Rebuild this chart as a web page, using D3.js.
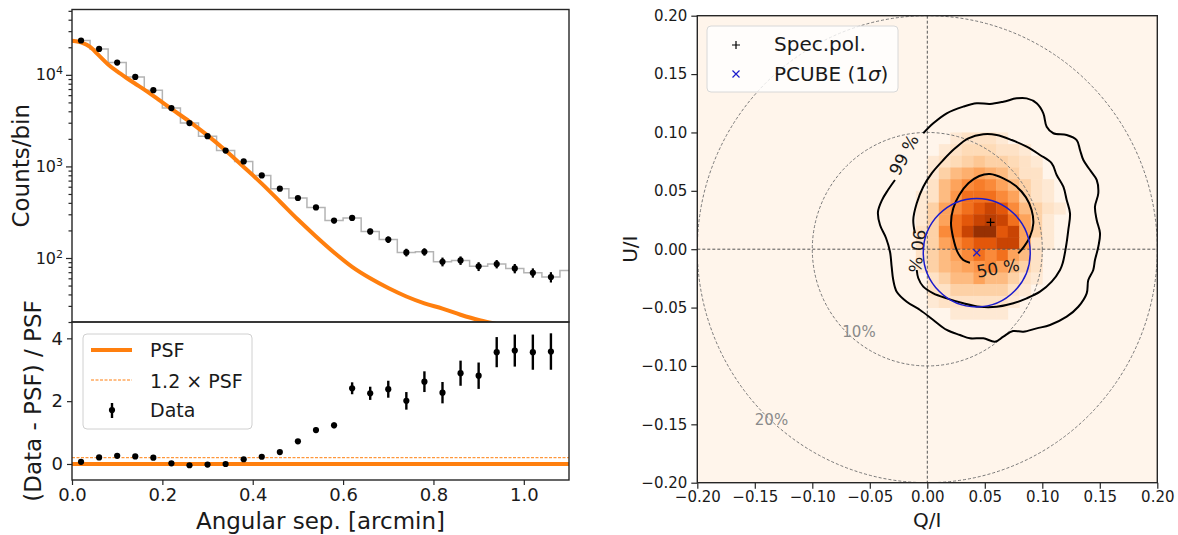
<!DOCTYPE html>
<html><head><meta charset="utf-8">
<script src="https://cdn.jsdelivr.net/npm/d3@7"></script>
<style>
body{margin:0;background:#fff}
text{font-family:"DejaVu Sans",sans-serif;fill:#1a1a1a}
</style>
</head><body>
<svg id="chart" width="1178" height="535"></svg>
<script>
// ---------------- LEFT PANEL DATA ----------------
const binCenters = [0.02,0.06,0.10,0.14,0.18,0.22,0.26,0.30,0.34,0.38,0.42,0.46,0.50,0.54,0.58,0.62,0.66,0.70,0.74,0.78,0.82,0.86,0.90,0.94,0.98,1.02,1.06];
const counts = [23700,19200,13600,9500,6800,4340,2970,2140,1490,1134,798,571,452,357,256,274,195,159,115,117,91,94,81,86,77,69,62];
const countErr = [154,139,117,97,82,66,54,46,39,34,28,24,21,19,16,17,14,13,11,11,10,10,9,9,9,8,8];
const histEdges = [0,0.04,0.08,0.12,0.16,0.20,0.24,0.28,0.32,0.36,0.40,0.44,0.48,0.52,0.56,0.60,0.64,0.68,0.72,0.76,0.80,0.84,0.88,0.92,0.96,1.00,1.04,1.08,1.12];
const histCounts = [23700,19200,13600,9500,6800,4340,2970,2140,1490,1134,798,571,452,357,256,274,195,159,115,117,91,94,81,86,77,69,62,73];
const psfX = [0,0.02,0.04,0.06,0.08,0.10,0.12,0.14,0.16,0.18,0.20,0.22,0.26,0.30,0.34,0.38,0.42,0.46,0.50,0.54,0.58,0.62,0.66,0.70,0.74,0.78,0.82,0.86,0.90,0.94,0.98];
const psfY = [23600,22600,20200,16200,13000,10900,9300,8000,6900,5900,5000,4250,3090,2180,1490,986,649,414,263,172,115,80,60,47,38,32,28,24,21,19,17];
const residual = [0.07,0.21,0.26,0.24,0.20,0.02,-0.04,-0.02,0.0,0.15,0.23,0.38,0.72,1.08,1.23,2.41,2.25,2.38,2.01,2.62,2.27,2.89,2.81,3.56,3.61,3.56,3.58];
const residualErr = [0.01,0.01,0.015,0.015,0.02,0.02,0.025,0.03,0.03,0.04,0.04,0.05,0.06,0.08,0.09,0.19,0.21,0.27,0.28,0.33,0.34,0.40,0.42,0.48,0.51,0.56,0.58];
const psfRatioLine = 0;
const psf12Line = 0.2;
const xTicksLeft = [0,0.2,0.4,0.6,0.8,1.0];
const yTicksTop = [100,1000,10000];
const yTicksBottom = [0,2,4];
const legendLeft = ["PSF","1.2 \u00d7 PSF","Data"];

// ---------------- RIGHT PANEL DATA ----------------
const qEdges = [-0.02,-0.01,0.00,0.01,0.02,0.03,0.04,0.05,0.06,0.07,0.08,0.09,0.10,0.11];
const uEdges = [0.09,0.08,0.07,0.06,0.05,0.04,0.03,0.02,0.01,0.00,-0.01,-0.02,-0.03,-0.04,-0.05,-0.06];
const cellSize = 0.01;
const density = [
 [0,0,0,0,0.5,1,1,1,0.5,0,0,0,0,0],
 [0,0,0,0.5,1,1.5,1.5,1.5,1,1,0.5,0,0,0],
 [0,0,0.5,1,1.5,2,2.5,2,2,1.5,1,0.5,0,0],
 [0,0,0.5,2,3,3.5,4,3.5,3,2,1,1,0,0],
 [0,0,1,3,4,5,5.5,5,4,3,2,1,0.5,0],
 [0,0.5,1,3,4.5,6,6,6,5,4,2,1,0.5,0],
 [0,0.5,2,4,5,6,7,8,7,5,3,2,1,0.5],
 [0,0.5,2,4,6,7,8,8.5,8,6,4,2,0.5,0],
 [0,1,2,5,6,8,9.5,9.5,7,8,4,2,0.5,0],
 [0,1,2,4,5,6,7,7,8,8,4,1,0.5,0],
 [0,1,2,3,4,5,6,5,6,4,3,1,0,0],
 [0,0.5,2,3,3.5,4,4.5,5,4,3,2,1,0,0],
 [0,0,1,2,3,3,4,3,3,2,1,0.5,0,0],
 [0,0,1,1,2,2,2,2,2,1,0.5,0,0,0],
 [0,0,0.5,1,1,1,1,1,1,0.5,0,0,0,0],
 [0,0,0,0,0.5,0.5,0.5,0.5,0.5,0,0,0,0,0]
];
const densityMax = 10;
const contour50 = [[0.0791,-0.0036],[0.0841,0.0022],[0.0893,0.0107],[0.0922,0.0222],[0.0907,0.0336],[0.0858,0.0444],[0.0771,0.0541],[0.0661,0.0607],[0.0545,0.0644],[0.0452,0.0627],[0.0357,0.0564],[0.0278,0.0464],[0.0226,0.0350],[0.0206,0.0222],[0.0226,0.0093],[0.0261,-0.0021],[0.0313,-0.0093],[0.0371,-0.0116]];
const contour90 = [[-0.0107,0.0136],[-0.0122,0.0250],[-0.0092,0.0393],[-0.0035,0.0535],[0.0038,0.0650],[0.0139,0.0764],[0.0241,0.0864],[0.0357,0.0950],[0.0487,0.0984],[0.0603,0.0978],[0.0734,0.0935],[0.0864,0.0878],[0.0980,0.0807],[0.1082,0.0736],[0.1125,0.0636],[0.1183,0.0535],[0.1212,0.0421],[0.1241,0.0307],[0.1226,0.0164],[0.1206,0.0021],[0.1177,-0.0121],[0.1154,-0.0178],[0.1082,-0.0278],[0.0980,-0.0364],[0.0864,-0.0421],[0.0748,-0.0463],[0.0603,-0.0493],[0.0458,-0.0493],[0.0313,-0.0463],[0.0169,-0.0421],[0.0052,-0.0378],[-0.0035,-0.0321],[-0.0078,-0.0249],[-0.0092,-0.0178]];
const contour99 = [[-0.0035,0.0993],[0.0052,0.1078],[0.0169,0.1164],[0.0313,0.1221],[0.0430,0.1250],[0.0545,0.1244],[0.0661,0.1263],[0.0777,0.1292],[0.0864,0.1292],[0.0951,0.1250],[0.1009,0.1164],[0.1038,0.1049],[0.1096,0.0993],[0.1212,0.0978],[0.1299,0.0935],[0.1328,0.0850],[0.1357,0.0764],[0.1415,0.0678],[0.1473,0.0593],[0.1487,0.0479],[0.1458,0.0364],[0.1473,0.0250],[0.1502,0.0136],[0.1487,0.0021],[0.1458,-0.0093],[0.1443,-0.0178],[0.1400,-0.0264],[0.1386,-0.0378],[0.1313,-0.0493],[0.1212,-0.0578],[0.1067,-0.0649],[0.0951,-0.0678],[0.0835,-0.0707],[0.0745,-0.0701],[0.0661,-0.0749],[0.0589,-0.0792],[0.0487,-0.0763],[0.0371,-0.0763],[0.0284,-0.0735],[0.0169,-0.0692],[0.0052,-0.0606],[-0.0063,-0.0521],[-0.0179,-0.0450],[-0.0266,-0.0364],[-0.0296,-0.0264],[-0.0310,-0.0150],[-0.0324,-0.0024],[-0.0359,0.0096],[-0.0411,0.0207],[-0.0429,0.0319],[-0.0394,0.0421],[-0.0342,0.0507],[-0.0281,0.0593]];
const contourLabelText = ["50 %","90 %","99 %"];
const contourLabelQ = [0.0615,-0.0090,-0.0203];
const contourLabelU = [-0.0163,-0.0015,0.0807];
const contourLabelAngle = [-10,97,-62];
const specPol = [0.055,0.023];
const pcubeCenter = [0.043,-0.003];
const pcubeRadius = 0.0465;
const pdRadii = [0.1,0.2];
const pdLabels = ["10%","20%"];
const pdLabelQ = [-0.0594,-0.1355];
const pdLabelU = [-0.0709,-0.1463];
const rightTicks = [-0.20,-0.15,-0.10,-0.05,0.00,0.05,0.10,0.15,0.20];
const legendRight = ["Spec.pol.","PCUBE (1"];

// ---------------- DRAW ----------------
const svg = d3.select("#chart");
const ORANGE = "#ff7f0e";
const SPINE = "#262626";

const xL = d3.scaleLinear().domain([0,1.1]).range([72,569]);
const yTop = d3.scaleLog().domain([20,51700]).range([322,9.5]);
const yBot = d3.scaleLinear().domain([-0.51,4.52]).range([480,322]);
const xR = d3.scaleLinear().domain([-0.2,0.2]).range([697.3,1157.3]);
const yR = d3.scaleLinear().domain([-0.2,0.2]).range([482.7,15.7]);

const defs = svg.append("defs");
defs.append("clipPath").attr("id","clipTop").append("rect")
  .attr("x",xL(0)).attr("y",yTop(51700)).attr("width",xL(1.1)-xL(0)).attr("height",yTop(20)-yTop(51700));
defs.append("clipPath").attr("id","clipBot").append("rect")
  .attr("x",xL(0)).attr("y",yBot(4.52)).attr("width",xL(1.1)-xL(0)).attr("height",yBot(-0.51)-yBot(4.52));
defs.append("clipPath").attr("id","clipR").append("rect")
  .attr("x",xR(-0.2)).attr("y",yR(0.2)).attr("width",xR(0.2)-xR(-0.2)).attr("height",yR(-0.2)-yR(0.2));

function styleAxis(g, fs){
  g.select(".domain").remove();
  g.selectAll(".tick line").attr("stroke",SPINE).attr("stroke-width",1.2);
  g.selectAll(".tick text").attr("font-size",fs).attr("fill","#1a1a1a").attr("font-family","DejaVu Sans");
}

// ---- top-left panel ----
const topG = svg.append("g");
const topClip = topG.append("g").attr("clip-path","url(#clipTop)");
const stepPts = [];
histCounts.forEach((c,i)=>{ stepPts.push([histEdges[i],c]); stepPts.push([histEdges[i+1],c]); });
topClip.append("path").datum(stepPts)
  .attr("d", d3.line().x(d=>xL(d[0])).y(d=>yTop(d[1])))
  .attr("fill","none").attr("stroke","#b4b4b4").attr("stroke-width",1.5);
topClip.append("path").datum(psfX.map((x,i)=>[x,psfY[i]]))
  .attr("d", d3.line().x(d=>xL(d[0])).y(d=>yTop(d[1])).curve(d3.curveMonotoneX))
  .attr("fill","none").attr("stroke",ORANGE).attr("stroke-width",4);
binCenters.forEach((x,i)=>{
  topClip.append("line").attr("x1",xL(x)).attr("x2",xL(x))
    .attr("y1",yTop(counts[i]-countErr[i])).attr("y2",yTop(counts[i]+countErr[i]))
    .attr("stroke","#000").attr("stroke-width",2.2);
  topClip.append("circle").attr("cx",xL(x)).attr("cy",yTop(counts[i])).attr("r",3.1).attr("fill","#000");
});
const minorTop = [];
[10,100,1000,10000].forEach(d=>{ for(let m=2;m<=9;m++){ const v=d*m; if(v>=20 && v<=51700) minorTop.push(v);} });
const gMinor = topG.append("g").attr("transform",`translate(${xL(0)},0)`)
  .call(d3.axisLeft(yTop).tickValues(minorTop).tickSize(3.5).tickFormat(""));
styleAxis(gMinor,0);
const gTopY = topG.append("g").attr("transform",`translate(${xL(0)},0)`)
  .call(d3.axisLeft(yTop).tickValues(yTicksTop).tickSize(6).tickPadding(3).tickFormat(""));
styleAxis(gTopY,16);
gTopY.selectAll(".tick text").each(function(d){
  const t = d3.select(this);
  t.text(null).attr("font-size",16);
  t.append("tspan").text("10");
  t.append("tspan").attr("dy","-0.55em").attr("font-size","11px").text(Math.round(Math.log10(d)));
});
topG.append("rect").attr("x",xL(0)).attr("y",yTop(51700)).attr("width",xL(1.1)-xL(0)).attr("height",yTop(20)-yTop(51700))
  .attr("fill","none").attr("stroke",SPINE).attr("stroke-width",1.4);
svg.append("text").attr("transform",`translate(29,${(yTop(20)+yTop(51700))/2}) rotate(-90)`)
  .attr("text-anchor","middle").attr("font-size",23).text("Counts/bin");

// ---- bottom-left panel ----
const botG = svg.append("g");
const botClip = botG.append("g").attr("clip-path","url(#clipBot)");
botClip.append("line").attr("x1",xL(0)).attr("x2",xL(1.1)).attr("y1",yBot(psfRatioLine)).attr("y2",yBot(psfRatioLine))
  .attr("stroke",ORANGE).attr("stroke-width",4);
botClip.append("line").attr("x1",xL(0)).attr("x2",xL(1.1)).attr("y1",yBot(psf12Line)).attr("y2",yBot(psf12Line))
  .attr("stroke",ORANGE).attr("stroke-width",1).attr("stroke-dasharray","3,1.5");
binCenters.forEach((x,i)=>{
  botClip.append("line").attr("x1",xL(x)).attr("x2",xL(x))
    .attr("y1",yBot(residual[i]-residualErr[i])).attr("y2",yBot(residual[i]+residualErr[i]))
    .attr("stroke","#000").attr("stroke-width",2.4);
  botClip.append("circle").attr("cx",xL(x)).attr("cy",yBot(residual[i])).attr("r",3.1).attr("fill","#000");
});
const gBotY = botG.append("g").attr("transform",`translate(${xL(0)},0)`)
  .call(d3.axisLeft(yBot).tickValues(yTicksBottom).tickSize(5).tickPadding(4).tickFormat(d3.format("d")));
styleAxis(gBotY,18);
const gBotX = botG.append("g").attr("transform",`translate(0,${yBot(-0.51)})`)
  .call(d3.axisBottom(xL).tickValues(xTicksLeft).tickSize(5).tickPadding(3).tickFormat(d3.format(".1f")));
styleAxis(gBotX,18);
botG.append("rect").attr("x",xL(0)).attr("y",yBot(4.52)).attr("width",xL(1.1)-xL(0)).attr("height",yBot(-0.51)-yBot(4.52))
  .attr("fill","none").attr("stroke",SPINE).attr("stroke-width",1.4);
svg.append("text").attr("transform",`translate(41,${(yBot(-0.51)+yBot(4.52))/2}) rotate(-90)`)
  .attr("text-anchor","middle").attr("font-size",23).text("(Data - PSF) / PSF");
svg.append("text").attr("x",(xL(0)+xL(1.1))/2).attr("y",529)
  .attr("text-anchor","middle").attr("font-size",23).text("Angular sep. [arcmin]");

// left legend
const lg = svg.append("g");
lg.append("rect").attr("x",83).attr("y",334).attr("width",169).attr("height",95).attr("rx",4)
  .attr("fill","#fff").attr("fill-opacity",0.8).attr("stroke","#d0d0d0").attr("stroke-width",1);
lg.append("line").attr("x1",91).attr("x2",132).attr("y1",350).attr("y2",350).attr("stroke",ORANGE).attr("stroke-width",4);
lg.append("line").attr("x1",91).attr("x2",132).attr("y1",380).attr("y2",380).attr("stroke",ORANGE).attr("stroke-width",1).attr("stroke-dasharray","3,1.5");
lg.append("line").attr("x1",112).attr("x2",112).attr("y1",403).attr("y2",418).attr("stroke","#000").attr("stroke-width",2.4);
lg.append("circle").attr("cx",112).attr("cy",410).attr("r",3.1).attr("fill","#000");
[357,388,417].forEach((y,i)=>{
  lg.append("text").attr("x",150).attr("y",y).attr("font-size",19).text(legendLeft[i]);
});

// ---- right panel ----
const rG = svg.append("g");
const rClip = rG.append("g").attr("clip-path","url(#clipR)");
rClip.append("rect").attr("x",xR(-0.2)).attr("y",yR(0.2)).attr("width",xR(0.2)-xR(-0.2)).attr("height",yR(-0.2)-yR(0.2))
  .attr("fill",d3.interpolateOranges(0));
density.forEach((row,j)=>{
  row.forEach((v,i)=>{
    if(v<=0) return;
    const q0 = qEdges[i], u0 = uEdges[j];
    rClip.append("rect")
      .attr("x",xR(q0)).attr("y",yR(u0+cellSize))
      .attr("width",xR(q0+cellSize)-xR(q0)+0.4).attr("height",yR(u0)-yR(u0+cellSize)+0.4)
      .attr("fill",d3.interpolateOranges(0.05+0.92*v/densityMax));
  });
});
pdRadii.forEach(r=>{
  rClip.append("ellipse").attr("cx",xR(0)).attr("cy",yR(0))
    .attr("rx",xR(r)-xR(0)).attr("ry",yR(0)-yR(r))
    .attr("fill","none").attr("stroke","#777").attr("stroke-width",1).attr("stroke-dasharray","3,2");
});
rClip.append("line").attr("x1",xR(0)).attr("x2",xR(0)).attr("y1",yR(0.2)).attr("y2",yR(-0.2))
  .attr("stroke","#555").attr("stroke-width",1).attr("stroke-dasharray","3,2");
rClip.append("line").attr("x1",xR(-0.2)).attr("x2",xR(0.2)).attr("y1",yR(0)).attr("y2",yR(0))
  .attr("stroke","#555").attr("stroke-width",1).attr("stroke-dasharray","3,2");
pdLabels.forEach((t,i)=>{
  rClip.append("text").attr("x",xR(pdLabelQ[i])).attr("y",yR(pdLabelU[i])).attr("dy","0.35em")
    .attr("text-anchor","middle").attr("font-size",15).style("fill","#8a8a8a").text(t);
});
const cline = d3.line().x(d=>xR(d[0])).y(d=>yR(d[1])).curve(d3.curveCatmullRom.alpha(0.5));
[contour50,contour90,contour99].forEach(c=>{
  rClip.append("path").datum(c).attr("d",cline).attr("fill","none").attr("stroke","#000").attr("stroke-width",2);
});
contourLabelText.forEach((t,i)=>{
  rClip.append("text").attr("transform",`translate(${xR(contourLabelQ[i])},${yR(contourLabelU[i])}) rotate(${contourLabelAngle[i]})`)
    .attr("text-anchor","middle").attr("dy","0.35em").attr("font-size",17).text(t);
});
rClip.append("ellipse").attr("cx",xR(pcubeCenter[0])).attr("cy",yR(pcubeCenter[1]))
  .attr("rx",xR(pcubeCenter[0]+pcubeRadius)-xR(pcubeCenter[0])).attr("ry",yR(pcubeCenter[1])-yR(pcubeCenter[1]+pcubeRadius))
  .attr("fill","none").attr("stroke","#1c1ccc").attr("stroke-width",1.5);
function plus(g,x,y,s,c){ g.append("path").attr("d",`M${x-s},${y}H${x+s}M${x},${y-s}V${y+s}`).attr("stroke",c).attr("stroke-width",1.2); }
function cross(g,x,y,s,c){ g.append("path").attr("d",`M${x-s},${y-s}L${x+s},${y+s}M${x-s},${y+s}L${x+s},${y-s}`).attr("stroke",c).attr("stroke-width",1.2); }
plus(rClip,xR(specPol[0]),yR(specPol[1]),4,"#000");
cross(rClip,xR(pcubeCenter[0]),yR(pcubeCenter[1]),3.5,"#1c1ccc");
const gRY = rG.append("g").attr("transform",`translate(${xR(-0.2)},0)`)
  .call(d3.axisLeft(yR).tickValues(rightTicks).tickSize(6).tickPadding(4).tickFormat(d3.format(".2f")));
styleAxis(gRY,15);
const gRX = rG.append("g").attr("transform",`translate(0,${yR(-0.2)})`)
  .call(d3.axisBottom(xR).tickValues(rightTicks).tickSize(6).tickPadding(3).tickFormat(d3.format(".2f")));
styleAxis(gRX,15);
rG.append("rect").attr("x",xR(-0.2)).attr("y",yR(0.2)).attr("width",xR(0.2)-xR(-0.2)).attr("height",yR(-0.2)-yR(0.2))
  .attr("fill","none").attr("stroke",SPINE).attr("stroke-width",1.4);
svg.append("text").attr("x",(xR(-0.2)+xR(0.2))/2).attr("y",527).attr("text-anchor","middle").attr("font-size",20).text("Q/I");
svg.append("text").attr("transform",`translate(637,${(yR(-0.2)+yR(0.2))/2}) rotate(-90)`)
  .attr("text-anchor","middle").attr("font-size",20).text("U/I");
const rl = svg.append("g");
rl.append("rect").attr("x",707).attr("y",26).attr("width",191).attr("height",66).attr("rx",4)
  .attr("fill","#fff").attr("fill-opacity",0.8).attr("stroke","#d8d8d8").attr("stroke-width",1);
plus(rl,736,45,4,"#000");
cross(rl,736,74,3.5,"#1c1ccc");
rl.append("text").attr("x",774).attr("y",51).attr("font-size",20).text(legendRight[0]);
const pt = rl.append("text").attr("x",774).attr("y",81).attr("font-size",20);
pt.append("tspan").text(legendRight[1]);
pt.append("tspan").attr("font-style","italic").text("\u03c3");
pt.append("tspan").text(")");
</script>
</body></html>
